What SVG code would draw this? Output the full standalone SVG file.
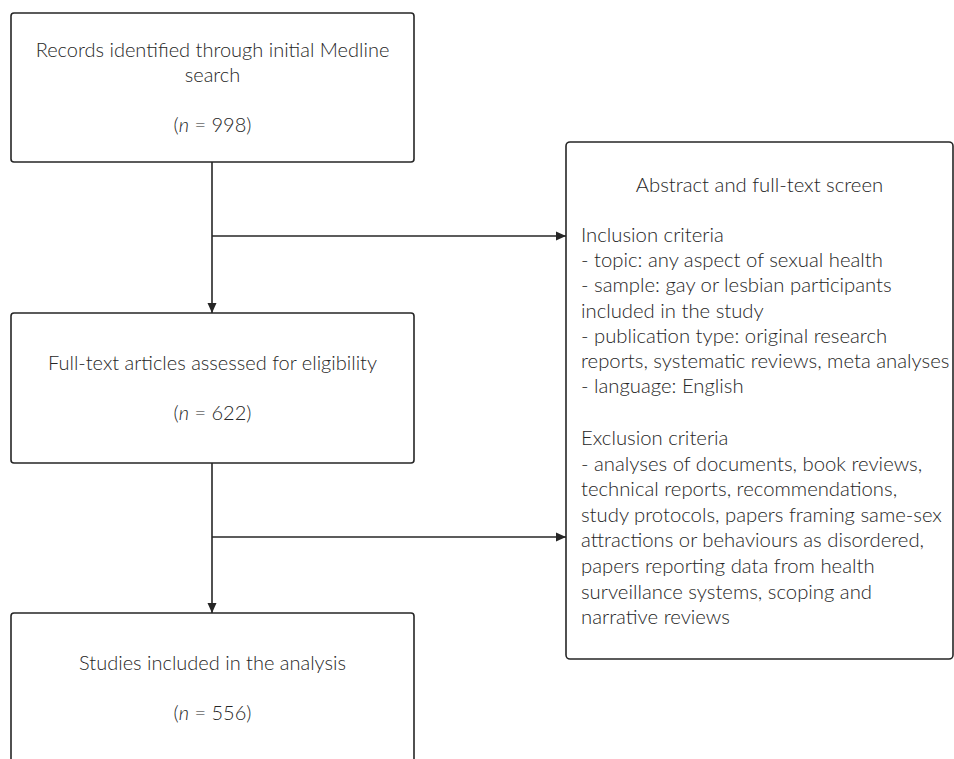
<svg xmlns="http://www.w3.org/2000/svg" width="954" height="759" viewBox="0 0 954 759">
<style>
.box{fill:#fff;stroke:#262626;stroke-width:1.6}
.t{font-family:Lato,"Open Sans","Liberation Sans",sans-serif;font-weight:300;font-size:20px;fill:#262626}
.r{font-size:20.3px}
.c{text-anchor:middle}
.ln{stroke:#262626;stroke-width:1.6;fill:none}
</style>
<defs>
<marker id="ah" viewBox="0 0 10 10" refX="10" refY="5" markerWidth="10" markerHeight="10" markerUnits="userSpaceOnUse" orient="auto">
<path d="M0,0.5 L10,5 L0,9.5 Z" fill="#262626"/>
</marker>
</defs>
<rect width="954" height="759" fill="#fff"/>
<g id="connectors">
<line class="ln" x1="212" y1="162" x2="212" y2="313" marker-end="url(#ah)"/>
<line class="ln" x1="212" y1="236" x2="566" y2="236" marker-end="url(#ah)"/>
<line class="ln" x1="212" y1="463" x2="212" y2="613" marker-end="url(#ah)"/>
<line class="ln" x1="212" y1="537" x2="566" y2="537" marker-end="url(#ah)"/>
</g>
<g id="n1">
<rect class="box" x="11" y="13" width="403" height="149" rx="3"/>
<text class="t c" x="212.5" y="57">Records identified through initial Medline</text>
<text class="t c" x="212.5" y="82">search</text>
<text class="t c" x="212.5" y="132">(<tspan font-style="italic">n</tspan> = 998)</text>
</g>
<g id="n2">
<rect class="box" x="11" y="313" width="403" height="150" rx="3"/>
<text class="t c" x="212.5" y="370">Full-text articles assessed for eligibility</text>
<text class="t c" x="212.5" y="420">(<tspan font-style="italic">n</tspan> = 622)</text>
</g>
<g id="n3">
<rect class="box" x="11" y="613" width="403" height="160" rx="3"/>
<text class="t c" x="212.5" y="670">Studies included in the analysis</text>
<text class="t c" x="212.5" y="720">(<tspan font-style="italic">n</tspan> = 556)</text>
</g>
<g id="n4">
<rect class="box" x="566" y="142" width="387" height="517" rx="4"/>
<text class="t r c" x="759.5" y="192">Abstract and full-text screen</text>
<text class="t r" x="581" y="242.2">Inclusion criteria</text>
<text class="t r" x="581" y="267.3">- topic: any aspect of sexual health</text>
<text class="t r" x="581" y="292.4">- sample: gay or lesbian participants</text>
<text class="t r" x="581" y="317.5">included in the study</text>
<text class="t r" x="581" y="342.6">- publication type: original research</text>
<text class="t r" x="581" y="367.7">reports, systematic reviews, meta analyses</text>
<text class="t r" x="581" y="392.8">- language: English</text>
<text class="t r" x="581" y="445">Exclusion criteria</text>
<text class="t r" x="581" y="470.6">- analyses of documents, book reviews,</text>
<text class="t r" x="581" y="496.2">technical reports, recommendations,</text>
<text class="t r" x="581" y="521.8">study protocols, papers framing same-sex</text>
<text class="t r" x="581" y="547.4">attractions or behaviours as disordered,</text>
<text class="t r" x="581" y="573">papers reporting data from health</text>
<text class="t r" x="581" y="598.6">surveillance systems, scoping and</text>
<text class="t r" x="581" y="624.2">narrative reviews</text>
</g>
</svg>
